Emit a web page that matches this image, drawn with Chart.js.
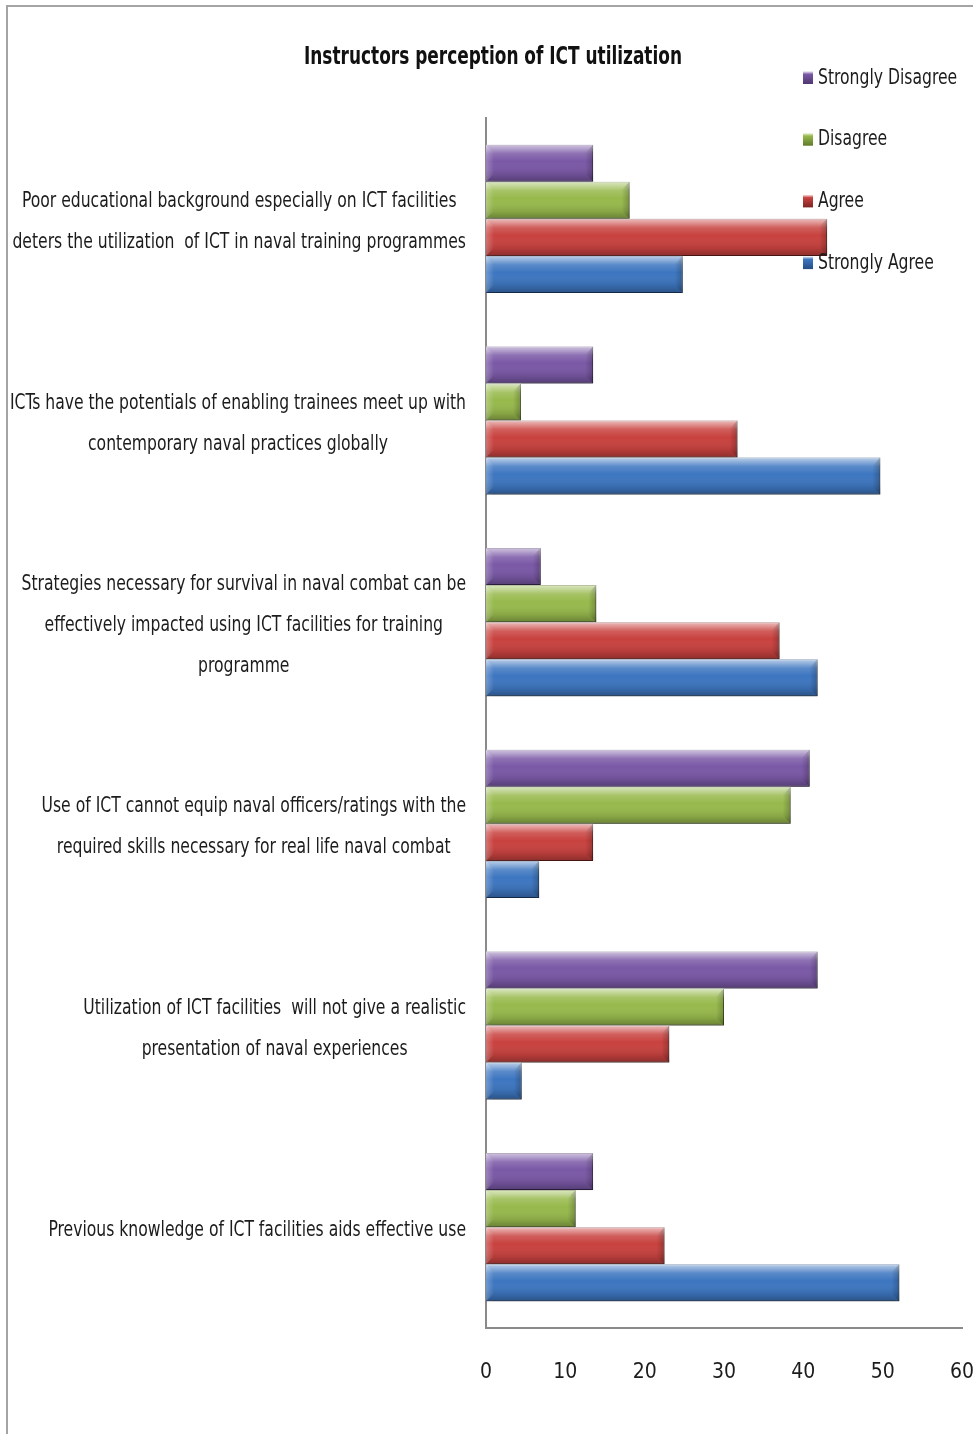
<!DOCTYPE html>
<html>
<head>
<meta charset="utf-8">
<title>Instructors perception of ICT utilization</title>
<script src="https://cdn.jsdelivr.net/npm/chart.js@4/dist/chart.umd.min.js"></script>
<style>
  html, body { margin: 0; padding: 0; background: #ffffff; overflow: hidden; }
  #wrap { width: 973px; height: 1434px; position: relative; }
</style>
</head>
<body>
<div id="wrap"><canvas id="chart"></canvas></div>
<script>
// Survey statements (one entry per bar group, split into display lines)
const categories = [
  ["Poor educational background especially on ICT facilities", "deters the utilization  of ICT in naval training programmes"],
  ["ICTs have the potentials of enabling trainees meet up with", "contemporary naval practices globally"],
  ["Strategies necessary for survival in naval combat can be", "effectively impacted using ICT facilities for training", "programme"],
  ["Use of ICT cannot equip naval officers/ratings with the", "required skills necessary for real life naval combat"],
  ["Utilization of ICT facilities  will not give a realistic", "presentation of naval experiences"],
  ["Previous knowledge of ICT facilities aids effective use"]
];

// Response shares per statement
const stronglyDisagree = [13.5, 13.5, 6.9, 40.8, 41.8, 13.5];
const disagree         = [18.1, 4.4, 13.9, 38.4, 30.0, 11.3];
const agree            = [43.0, 31.7, 37.0, 13.5, 23.1, 22.5];
const stronglyAgree    = [24.8, 49.7, 41.8, 6.7, 4.5, 52.1];

const seriesNames = ["Strongly Disagree", "Disagree", "Agree", "Strongly Agree"];
const xTicks = [0, 10, 20, 30, 40, 50, 60];
const chartTitle = "Instructors perception of ICT utilization";

const FONT = '"Liberation Sans Narrow", "DejaVu Sans Condensed", "Open Sans", sans-serif';
const TEXT = '#1c1c1c';

const palette = [
  { fill: '#7a58a6', edge: '#4e3670' },
  { fill: '#97b94c', edge: '#5f7a2a' },
  { fill: '#c8423f', edge: '#7e2422' },
  { fill: '#3d76c0', edge: '#234d84' }
];

// Page frame and white background
const framePlugin = {
  id: 'frame',
  beforeDraw(chart) {
    const c = chart.ctx;
    c.save();
    c.fillStyle = '#ffffff';
    c.fillRect(0, 0, chart.width, chart.height);
    c.strokeStyle = '#a4a4a4';
    c.lineWidth = 2;
    c.strokeRect(7, 6, chart.width + 20, chart.height + 20);
    c.restore();
  }
};

// Soft drop shadow under the bars plus a glossy bevel on top of them
const barGloss = {
  id: 'barGloss',
  beforeDatasetsDraw(chart) {
    const c = chart.ctx;
    c.save();
    c.shadowColor = 'rgba(0,0,0,0.32)';
    c.shadowBlur = 6;
    c.shadowOffsetX = 2;
    c.shadowOffsetY = 3;
  },
  afterDatasetsDraw(chart) {
    const c = chart.ctx;
    c.restore();
    c.save();
    chart.data.datasets.forEach((ds, di) => {
      const meta = chart.getDatasetMeta(di);
      if (meta.hidden) return;
      meta.data.forEach(bar => {
        const p = bar.getProps(['x', 'y', 'base', 'height'], true);
        const top = p.y - p.height / 2;
        const left = Math.min(p.base, p.x);
        const w = Math.abs(p.x - p.base);
        const h = p.height;
        const g = c.createLinearGradient(0, top, 0, top + h);
        g.addColorStop(0, 'rgba(255,255,255,0.65)');
        g.addColorStop(0.10, 'rgba(255,255,255,0.45)');
        g.addColorStop(0.24, 'rgba(255,255,255,0.15)');
        g.addColorStop(0.45, 'rgba(255,255,255,0.0)');
        g.addColorStop(0.80, 'rgba(0,0,0,0.10)');
        g.addColorStop(1, 'rgba(0,0,0,0.30)');
        c.fillStyle = g;
        c.fillRect(left, top, w, h);
        // bevelled end caps
        const cap = Math.min(8, w / 3);
        const gr = c.createLinearGradient(left + w - cap, 0, left + w, 0);
        gr.addColorStop(0, 'rgba(0,0,0,0)');
        gr.addColorStop(1, 'rgba(0,0,0,0.22)');
        c.fillStyle = gr;
        c.beginPath();
        c.moveTo(left + w - cap, top + cap);
        c.lineTo(left + w, top);
        c.lineTo(left + w, top + h);
        c.lineTo(left + w - cap, top + h - cap);
        c.closePath();
        c.fill();
        const gl = c.createLinearGradient(left, 0, left + cap, 0);
        gl.addColorStop(0, 'rgba(255,255,255,0.25)');
        gl.addColorStop(1, 'rgba(255,255,255,0)');
        c.fillStyle = gl;
        c.beginPath();
        c.moveTo(left, top);
        c.lineTo(left + cap, top + cap);
        c.lineTo(left + cap, top + h - cap);
        c.lineTo(left, top + h);
        c.closePath();
        c.fill();
      });
    });
    c.restore();
  }
};

// Category labels: each block right-aligned to the axis, its lines centred within the block
const categoryLabels = {
  id: 'categoryLabels',
  afterDraw(chart) {
    const c = chart.ctx;
    const yScale = chart.scales.y;
    const labels = chart.data.labels;
    c.save();
    c.font = '22px ' + FONT;
    c.fillStyle = TEXT;
    c.textAlign = 'center';
    c.textBaseline = 'middle';
    let widest = 0;
    labels.forEach(lines => lines.forEach(l => { widest = Math.max(widest, c.measureText(l).width); }));
    const sx = Math.min(1, 456 / widest);
    const rightEdge = yScale.right - 20;
    const lineGap = 41;
    labels.forEach((lines, i) => {
      const blockW = Math.max(...lines.map(l => c.measureText(l).width)) * sx;
      const cx = rightEdge - blockW / 2;
      const cy = yScale.getPixelForTick(i) + 3;
      lines.forEach((l, k) => {
        const ly = cy + (k - (lines.length - 1) / 2) * lineGap;
        c.save();
        c.translate(cx, ly);
        c.scale(sx, 1);
        c.fillText(l, 0, 0);
        c.restore();
      });
    });
    chart.$labelScale = sx;
    c.restore();
  }
};

// Title and the stacked legend at the upper right
const titleAndLegend = {
  id: 'titleAndLegend',
  afterDraw(chart) {
    const c = chart.ctx;
    c.save();
    c.fillStyle = '#111111';
    c.textAlign = 'center';
    c.textBaseline = 'middle';
    c.font = 'bold 25px ' + FONT;
    const tw = c.measureText(chartTitle).width;
    const st = Math.min(1, 378 / tw);
    c.save();
    c.translate(493, 57);
    c.scale(st, 1);
    c.fillText(chartTitle, 0, 0);
    c.restore();

    c.font = '22px ' + FONT;
    c.textAlign = 'left';
    c.fillStyle = TEXT;
    const sx = chart.$labelScale || 0.85;
    chart.data.datasets.forEach((ds, i) => {
      const y = 78 + i * 61.7;
      const col = palette[i];
      const mg = c.createLinearGradient(0, y - 7, 0, y + 6);
      mg.addColorStop(0, '#ffffff');
      mg.addColorStop(0.25, col.fill);
      mg.addColorStop(1, col.edge);
      c.fillStyle = mg;
      c.fillRect(803, y - 7, 10, 13);
      c.fillStyle = TEXT;
      c.save();
      c.translate(818, y);
      c.scale(sx, 1);
      c.fillText(ds.label, 0, 0);
      c.restore();
    });
    c.restore();
  }
};

const seriesValues = [stronglyDisagree, disagree, agree, stronglyAgree];

const datasets = seriesNames.map((name, i) => ({
  label: name,
  data: seriesValues[i],
  backgroundColor: palette[i].fill,
  borderColor: palette[i].edge,
  borderWidth: 1,
  borderSkipped: 'start',
  barPercentage: 1.0,
  categoryPercentage: 0.735
}));

new Chart(document.getElementById('chart'), {
  type: 'bar',
  data: { labels: categories, datasets },
  options: {
    indexAxis: 'y',
    responsive: true,
    maintainAspectRatio: false,
    animation: false,
    layout: { padding: { top: 118, left: 8, right: 11, bottom: 0 } },
    plugins: {
      legend: { display: false },
      title: { display: false },
      tooltip: { enabled: false }
    },
    scales: {
      x: {
        min: xTicks[0],
        max: xTicks[xTicks.length - 1],
        afterBuildTicks(scale) { scale.ticks = xTicks.map(v => ({ value: v })); },
        afterFit(scale) {
          scale.height = 106;
          scale.paddingLeft = 0;
          scale.paddingRight = 0;
        },
        grid: { display: false, drawTicks: false },
        border: { display: true, color: '#8a8a8a', width: 2 },
        ticks: {
          padding: 32,
          color: TEXT,
          font: { family: FONT, size: 21 },
          maxRotation: 0
        }
      },
      y: {
        afterFit(scale) { scale.width = 478; },
        grid: { display: false, drawTicks: false },
        border: { display: true, color: '#8a8a8a', width: 2 },
        ticks: { display: false }
      }
    }
  },
  plugins: [framePlugin, barGloss, categoryLabels, titleAndLegend]
});
</script>
</body>
</html>
